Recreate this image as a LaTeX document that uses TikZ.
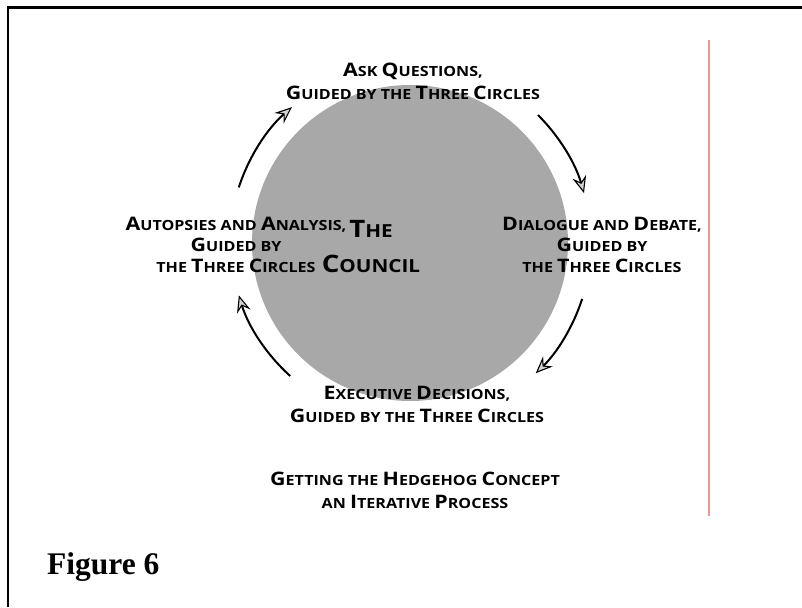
\documentclass[tikz,border=0pt]{standalone}
\usepackage{fontspec}
\setmainfont{Liberation Serif}
\newfontfamily\capfont{Open Sans}[FakeStretch=1.15]
\usetikzlibrary{arrows.meta}
\definecolor{disc}{RGB}{168,168,168}
\definecolor{pagerule}{RGB}{236,150,150}

% larger initial capitals for the small-caps labels
\newcommand\Up[1]{{\fontsize{18.6}{18.6}\selectfont #1}}
\newcommand\BigUp[1]{{\fontsize{24}{24}\selectfont #1}}

\begin{document}
\begin{tikzpicture}[x=1pt,y=1pt,
  % anchor=base sits on the baseline of the last line
  stage/.style={font=\capfont\bfseries\fontsize{14}{23}\selectfont,
    align=center, anchor=base, inner sep=0pt},
  sidestage/.style={stage, font=\capfont\bfseries\fontsize{14}{21}\selectfont},
  cycle/.style={line width=2pt,
    -{Stealth[length=17pt,width=14pt,inset=6pt,line width=1.1pt,fill=gray!35]}},
]
\useasboundingbox (0,0) rectangle (802,607);

% page frame and margin rule
\draw[line width=2.5pt] (8,0) -- (8,599.5) -- (802,599.5);
\draw[draw=pagerule, line width=1.2pt] (709,91) -- (709,567);

% the central disc
\coordinate (hub) at (410,364);
\node (disc) [circle, fill=disc, minimum size=316pt, inner sep=0pt] at (hub) {};
\node (council) [stage, font=\capfont\bfseries\fontsize{18}{35}\selectfont]
  at (371,334) {\BigUp{T}HE\\\BigUp{C}OUNCIL};

% the four stages
\node (ask) [stage] at (413,507)
  {\Up{A}SK \Up{Q}UESTIONS,\\\Up{G}UIDED BY THE \Up{T}HREE \Up{C}IRCLES};
\node (debate) [sidestage] at (602,334)
  {\Up{D}IALOGUE AND \Up{D}EBATE,\\\Up{G}UIDED BY\\THE \Up{T}HREE \Up{C}IRCLES};
\node (decide) [stage] at (417,184)
  {\Up{E}XECUTIVE \Up{D}ECISIONS,\\\Up{G}UIDED BY THE \Up{T}HREE \Up{C}IRCLES};
\node (autopsy) [sidestage] at (236,334)
  {\Up{A}UTOPSIES AND \Up{A}NALYSIS,\\\Up{G}UIDED BY\\THE \Up{T}HREE \Up{C}IRCLES};

% arrows running clockwise round the disc
\draw[cycle] ([shift={(162:180)}]hub) arc[start angle=162, end angle=131, radius=180];
\draw[cycle] ([shift={(45:181)}]hub) arc[start angle=45, end angle=16, radius=181];
\draw[cycle] ([shift={(-18:181)}]hub) arc[start angle=-18, end angle=-46, radius=181];
\draw[cycle] ([shift={(228:179)}]hub) arc[start angle=228, end angle=197, radius=179];

% caption
\node (caption) [stage] at (415,98)
  {\Up{G}ETTING THE \Up{H}EDGEHOG \Up{C}ONCEPT\\AN \Up{I}TERATIVE \Up{P}ROCESS};
\node (fig) [anchor=base west, inner sep=0pt,
  font=\fontsize{31.5}{31.5}\selectfont\bfseries] at (47,33) {Figure 6};
\end{tikzpicture}
\end{document}
